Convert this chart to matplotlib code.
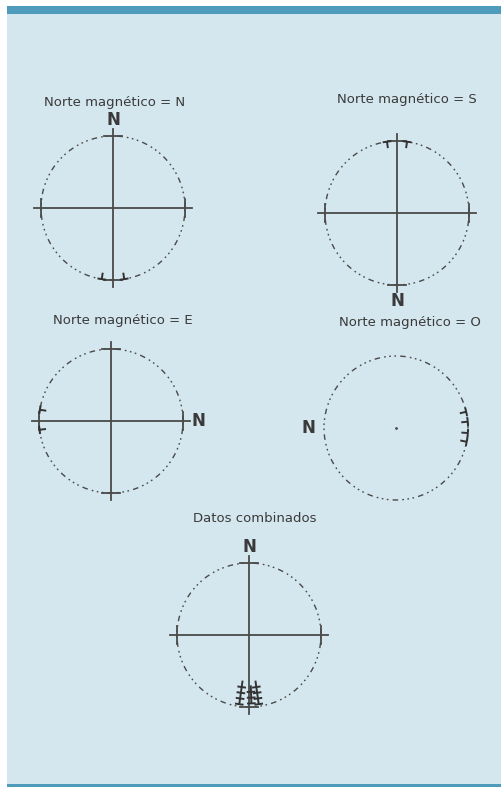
import numpy as np
import matplotlib
matplotlib.use("Agg")
from matplotlib import pyplot as plt
from matplotlib.patches import Rectangle

# panel titles and where the "N" label sits (azimuth, degrees clockwise from top)
titles = ["Norte magnético = N", "Norte magnético = S", "Norte magnético = E",
          "Norte magnético = O", "Datos combinados"]
north_az = [0, 180, 90, 270, 0]
has_cross = [True, True, True, False, True]

# declinations (degrees clockwise from top of each circle)
dec_n = [171, 189]
dec_s = [352, 8]
dec_e = [263, 279]
dec_o = [77, 85, 94, 101]
# combined: azimuth and radius (points stack inward at the rim)
comb_az = [188, 188, 188, 188, 178, 178, 178, 172, 172, 172, 172]
comb_r = [0.97, 0.89, 0.81, 0.73, 0.95, 0.87, 0.79, 0.97, 0.89, 0.81, 0.73]

data_az = [dec_n, dec_s, dec_e, dec_o, comb_az]
data_r = [[1.0] * len(dec_n), [1.0] * len(dec_s), [1.0] * len(dec_e),
          [1.0] * len(dec_o), comb_r]

W, H = 501, 787
bg = '#d4e6ee'
bar = '#4f9bbb'
ink = '#4a4a4a'

# layout in pixels: circle centre, title offset (units)
centres = [(113, 208), (397, 213), (111, 421), (396, 428), (249, 635)]
title_off = [(0.02, 1.47), (0.14, 1.57), (0.17, 1.40), (0.19, 1.47), (0.08, 1.62)]
RPX = 72.0   # circle radius in pixels
HALF = 90.0  # half size of each axes in pixels

fig = plt.figure(figsize=(W / 100, H / 100), dpi=100)
fig.patch.set_facecolor('white')
fig.add_artist(Rectangle((7 / W, 0), 1 - 7 / W, 1 - 6 / H, transform=fig.transFigure,
                         facecolor=bg, edgecolor='none', zorder=0))
fig.add_artist(Rectangle((7 / W, 1 - 14 / H), 1 - 7 / W, 8 / H, transform=fig.transFigure,
                         facecolor=bar, edgecolor='none', zorder=1))
fig.add_artist(Rectangle((7 / W, 0), 1 - 7 / W, 3 / H, transform=fig.transFigure,
                         facecolor=bar, edgecolor='none', zorder=1))


def xy(az, r):
    a = np.radians(az)
    return r * np.sin(a), r * np.cos(a)


def draw_point(ax, az, r):
    # short tangential dash with a small radial stroke, like the hand-drawn marks
    x0, y0 = xy(az, r)
    tx, ty = np.cos(np.radians(az)), -np.sin(np.radians(az))
    rx, ry = xy(az, 1.0)
    ax.plot([x0 - 0.06 * tx, x0 + 0.06 * tx], [y0 - 0.06 * ty, y0 + 0.06 * ty],
            color='#333333', lw=1.4, solid_capstyle='butt')
    ax.plot([x0, x0 - 0.09 * rx], [y0, y0 - 0.09 * ry],
            color='#333333', lw=1.4, solid_capstyle='butt')


t = np.linspace(0, 2 * np.pi, 400)
for i, (cx, cy) in enumerate(centres):
    s = HALF / RPX
    ax = fig.add_axes([(cx - HALF) / W, (H - cy - HALF) / H, 2 * HALF / W, 2 * HALF / H])
    ax.set_xlim(-s, s)
    ax.set_ylim(-s, s)
    ax.axis('off')

    ax.plot(np.cos(t), np.sin(t), color=ink, lw=1.0,
            dashes=(4, 3, 1.2, 2.5, 1.2, 2.5, 1.2, 3))

    if has_cross[i]:
        ax.plot([-1.1, 1.1], [0, 0], color=ink, lw=1.3)
        ax.plot([0, 0], [-1.1, 1.1], color=ink, lw=1.3)
        for az in [0, 90, 180, 270]:
            x0, y0 = xy(az, 1.0)
            tx, ty = np.cos(np.radians(az)), -np.sin(np.radians(az))
            ax.plot([x0 - 0.12 * tx, x0 + 0.12 * tx], [y0 - 0.12 * ty, y0 + 0.12 * ty],
                    color=ink, lw=1.3)
    else:
        ax.plot([0], [0], marker='.', ms=2, color=ink)

    for az, r in zip(data_az[i], data_r[i]):
        draw_point(ax, az, r)

    nx, ny = xy(north_az[i], 1.22)
    ax.text(nx, ny, 'N', ha='center', va='center', fontsize=12, fontweight='bold',
            color='#3a3a3a', clip_on=False)
    ax.text(title_off[i][0], title_off[i][1], titles[i], ha='center', va='center',
            fontsize=9.5, color='#3a3a3a', clip_on=False)

fig.savefig('out.png', dpi=100, facecolor=fig.get_facecolor())
